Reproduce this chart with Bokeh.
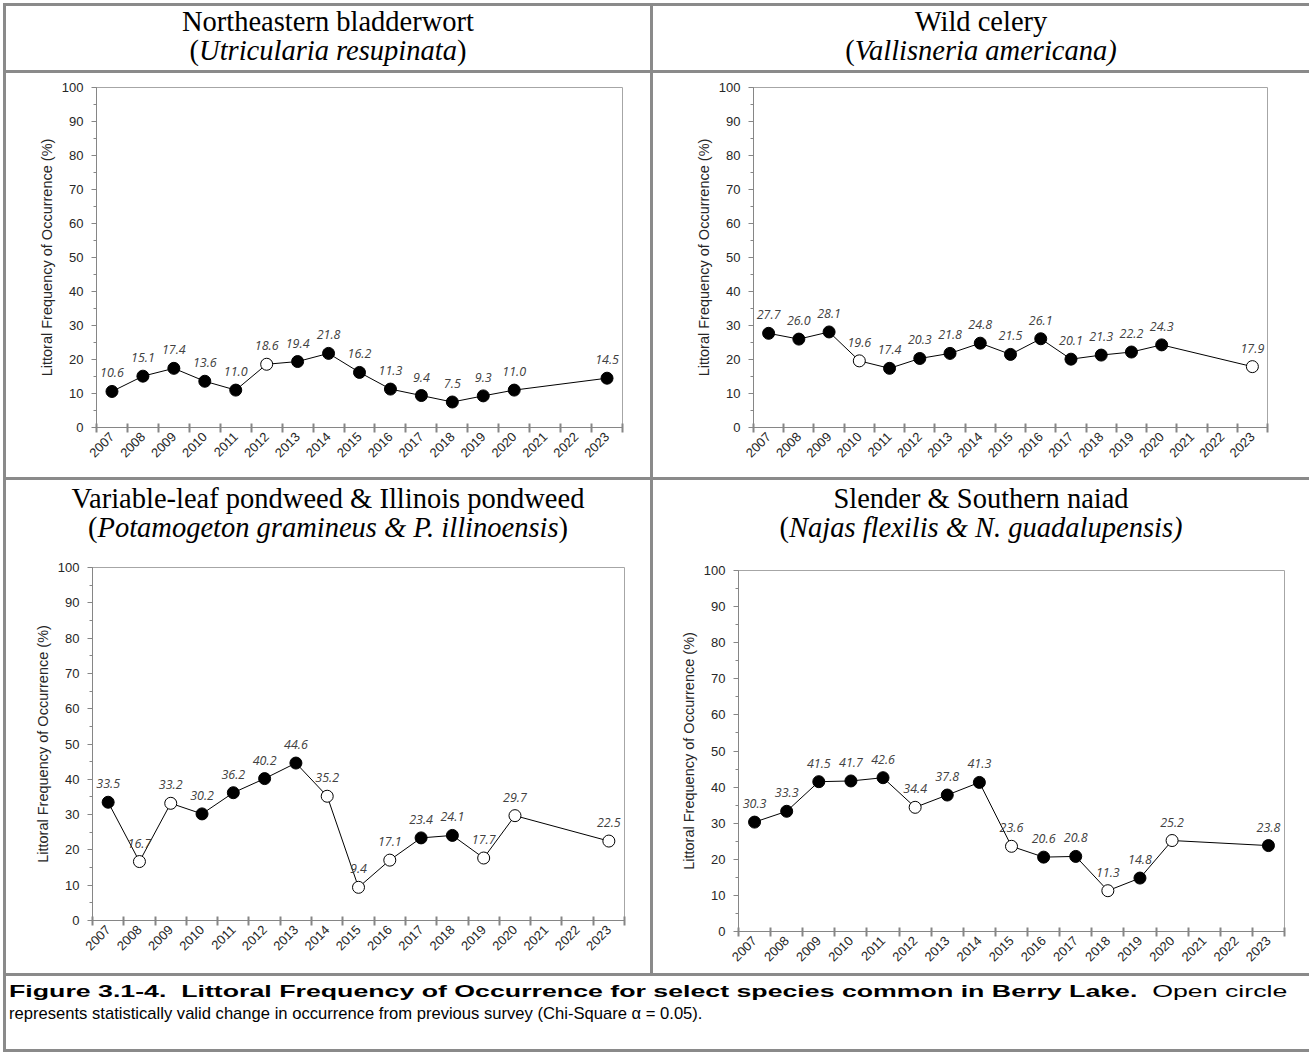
import math
from bokeh.plotting import figure
from bokeh.layouts import column, row
from bokeh.models import Div, Range1d, FixedTicker, SingleIntervalTicker, ColumnDataSource, LabelSet
from bokeh.core.properties import value
from bokeh.embed import file_html
from bokeh.resources import INLINE

# ---------------- data ----------------
years = [2007, 2008, 2009, 2010, 2011, 2012, 2013, 2014, 2015, 2016,
         2017, 2018, 2019, 2020, 2021, 2022, 2023]
tick_labels = [str(y) for y in years]

survey_years = [2007, 2008, 2009, 2010, 2011, 2012, 2013, 2014, 2015, 2016,
                2017, 2018, 2019, 2020, 2023]

bladderwort_vals = [10.6, 15.1, 17.4, 13.6, 11.0, 18.6, 19.4, 21.8, 16.2, 11.3,
                    9.4, 7.5, 9.3, 11.0, 14.5]
bladderwort_open = [0, 0, 0, 0, 0, 1, 0, 0, 0, 0, 0, 0, 0, 0, 0]

celery_vals = [27.7, 26.0, 28.1, 19.6, 17.4, 20.3, 21.8, 24.8, 21.5, 26.1,
               20.1, 21.3, 22.2, 24.3, 17.9]
celery_open = [0, 0, 0, 1, 0, 0, 0, 0, 0, 0, 0, 0, 0, 0, 1]

pondweed_vals = [33.5, 16.7, 33.2, 30.2, 36.2, 40.2, 44.6, 35.2, 9.4, 17.1,
                 23.4, 24.1, 17.7, 29.7, 22.5]
pondweed_open = [0, 1, 1, 0, 0, 0, 0, 1, 1, 1, 0, 0, 1, 1, 1]

naiad_vals = [30.3, 33.3, 41.5, 41.7, 42.6, 34.4, 37.8, 41.3, 23.6, 20.6,
              20.8, 11.3, 14.8, 25.2, 23.8]
naiad_open = [0, 0, 0, 0, 0, 1, 0, 0, 1, 0, 0, 1, 0, 1, 0]

y_label = "Littoral Frequency of Occurrence (%)"

AXIS_GRAY = "#868686"
BORDER = "#8a8a8a"


def make_panel(vals, opens, width, height, left, right, top, bottom):
    centers = [i + 0.5 for i in range(len(years))]
    bounds = [float(i) for i in range(len(years) + 1)]
    xs = [years.index(y) + 0.5 for y in survey_years]
    src = ColumnDataSource(dict(
        x=xs, y=vals,
        fill=["white" if o else "black" for o in opens],
        lbl=["%.1f" % v for v in vals],
    ))
    p = figure(width=width, height=height, x_range=Range1d(0, len(years)),
               y_range=Range1d(0, 100), output_backend="svg", toolbar_location=None,
               min_border_left=left, min_border_right=right,
               min_border_top=top, min_border_bottom=bottom, margin=0)
    p.background_fill_color = "white"
    p.border_fill_color = "white"
    p.outline_line_color = "#a6a6a6"
    p.outline_line_width = 1
    p.xgrid.visible = False
    p.ygrid.visible = False

    p.line("x", "y", source=src, line_color="black", line_width=1)
    p.scatter("x", "y", source=src, size=12, fill_color="fill",
              line_color="black", line_width=1)
    labels = LabelSet(x="x", y="y", text="lbl", source=src, y_offset=14,
                      text_align="center", text_baseline="alphabetic",
                      text_font=value("Open Sans"), text_font_style="italic",
                      text_font_size="12.5px", text_color="#404040")
    p.add_layout(labels)

    xa = p.xaxis[0]
    xa.ticker = FixedTicker(ticks=centers, minor_ticks=bounds)
    xa.major_label_overrides = {c: t for c, t in zip(centers, tick_labels)}
    xa.major_label_orientation = math.pi / 4
    xa.major_tick_in = 0
    xa.major_tick_out = 0
    xa.minor_tick_in = 4
    xa.minor_tick_out = 5
    xa.minor_tick_line_color = AXIS_GRAY
    xa.minor_tick_line_width = 2
    xa.axis_line_color = AXIS_GRAY
    xa.major_label_standoff = 2
    xa.major_label_text_font = "Liberation Sans"
    xa.major_label_text_font_size = "13px"
    xa.major_label_text_color = "#262626"

    ya = p.yaxis[0]
    ya.ticker = SingleIntervalTicker(interval=10, num_minor_ticks=2)
    ya.major_tick_in = 0
    ya.major_tick_out = 5
    ya.minor_tick_in = 0
    ya.minor_tick_out = 3
    ya.major_tick_line_color = AXIS_GRAY
    ya.minor_tick_line_color = AXIS_GRAY
    ya.axis_line_color = AXIS_GRAY
    ya.major_label_standoff = 8
    ya.major_label_text_font = "Liberation Sans"
    ya.major_label_text_font_size = "13px"
    ya.major_label_text_color = "#262626"
    ya.axis_label = y_label
    ya.axis_label_text_font = "Liberation Sans"
    ya.axis_label_text_font_style = "normal"
    ya.axis_label_text_font_size = "14.5px"
    ya.axis_label_text_color = "#262626"
    ya.axis_label_standoff = 4
    return p


def bar(w, h, color=BORDER):
    return Div(text="", width=w, height=h, margin=0, styles={"background-color": color})


def blank(w, h):
    return Div(text="", width=w, height=h, margin=0)


def title_div(line1, line2_html, w, h, pad):
    html = ('<div style="width:%dpx;text-align:center;font-family:\'Liberation Serif\';'
            'font-size:28.5px;line-height:28.5px;color:#000;padding-top:%dpx;white-space:nowrap;">'
            '<div>%s</div><div>%s</div></div>'
            % (w, pad, line1, line2_html))
    return Div(text=html, width=w, height=h, margin=0)


WA, WB = 644, 656

tA = title_div("Northeastern bladderwort", "(<i>Utricularia resupinata</i>)", WA, 64, 2)
tB = title_div("Wild celery", "(<i>Vallisneria americana)</i>", WB, 64, 2)
tC = title_div("Variable-leaf pondweed &amp; Illinois pondweed",
               "(<i>Potamogeton gramineus &amp; P. illinoensis</i>)", WA, 68, 5)
tD = title_div("Slender &amp; Southern naiad",
               "(<i>Najas flexilis &amp; N. guadalupensis)</i>", WB, 68, 5)

pA = make_panel(bladderwort_vals, bladderwort_open, WA, 404, 90, 28, 14, 44)
pB = make_panel(celery_vals, celery_open, WB, 404, 100, 42, 14, 50)
pC = make_panel(pondweed_vals, pondweed_open, WA, 425, 86, 26, 19, 53)
pD = make_panel(naiad_vals, naiad_open, WB, 425, 85, 25, 22, 42)

caption_html = (
    '<div style="width:1295px;font-family:\'Liberation Sans\';font-size:16.6px;line-height:22px;'
    'color:#000;padding-left:3px;padding-top:5px;white-space:nowrap;">'
    '<span style="display:inline-block;transform:scaleX(1.61);transform-origin:0 0;">'
    '<b>Figure 3.1-4.&nbsp; Littoral Frequency of Occurrence for select species common in Berry Lake.</b>'
    '&nbsp; Open circle</span><br>represents statistically valid change in occurrence from previous survey '
    '(Chi-Square &alpha; = 0.05).</div>'
)
caption = Div(text=caption_html, width=1303, height=73, margin=0)

inner = column(
    bar(1306, 3),
    row(bar(3, 64), tA, bar(3, 64), tB, spacing=0),
    bar(1306, 3),
    row(bar(3, 404), pA, bar(3, 404), pB, spacing=0),
    bar(1306, 3),
    row(bar(3, 493), column(tC, pC, spacing=0), bar(3, 493), column(tD, pD, spacing=0), spacing=0),
    bar(1306, 3),
    row(bar(3, 73), caption, spacing=0),
    bar(1306, 3),
    spacing=0,
)
layout = column(blank(1309, 3), row(blank(3, 1049), inner, spacing=0), spacing=0)

open("out.html", "w").write(file_html(layout, INLINE))
